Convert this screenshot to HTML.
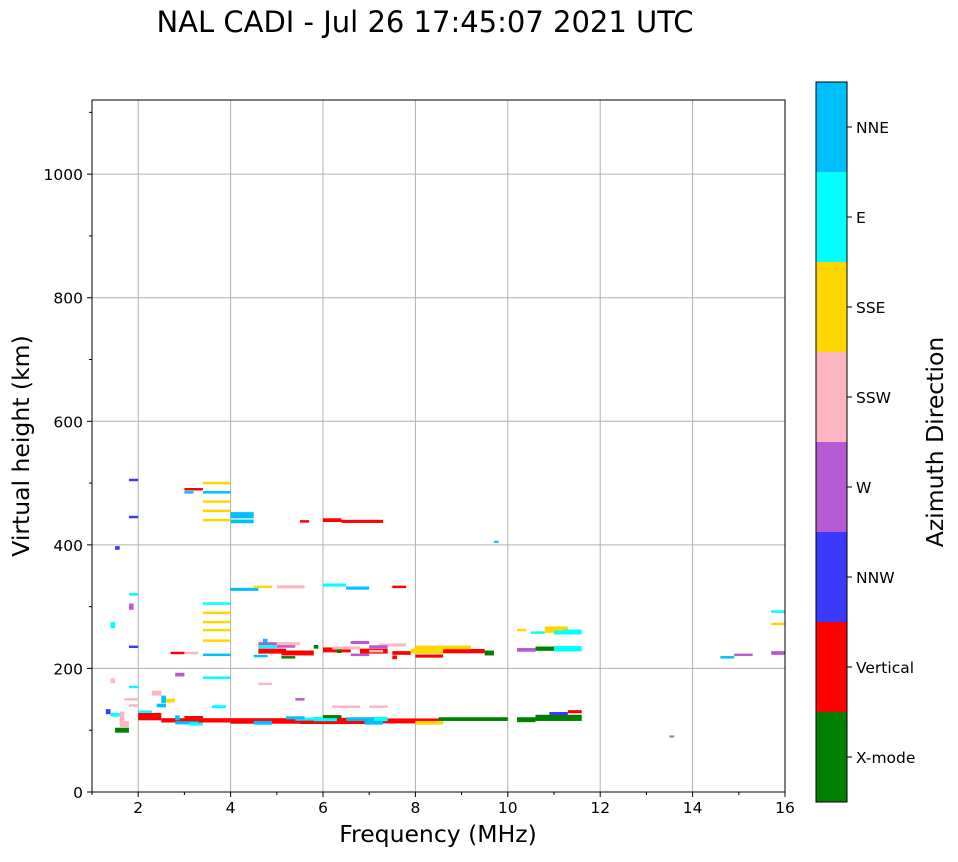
<!DOCTYPE html>
<html><head><meta charset="utf-8"><style>
body{margin:0;background:#fff;}
svg text{font-family:"DejaVu Sans","Liberation Sans",sans-serif;}
</style></head><body>
<svg id="chart" width="958" height="857" viewBox="0 0 958 857" xmlns="http://www.w3.org/2000/svg">
<text x="425" y="32" font-size="29" text-anchor="middle">NAL CADI - Jul 26 17:45:07 2021 UTC</text>
<g id="grid"></g>
<g id="marks"></g>
<rect x="92" y="100" width="693" height="692" fill="none" stroke="#000" stroke-width="1"/>
<g id="axes"></g>
<text x="438" y="842" font-size="23.5" text-anchor="middle">Frequency (MHz)</text>
<text transform="translate(29,446) rotate(-90)" font-size="23.5" text-anchor="middle">Virtual height (km)</text>
<g id="cbar"></g>
<text transform="translate(943,442) rotate(-90)" font-size="23.5" text-anchor="middle">Azimuth Direction</text>
</svg>
<script>
const xTicks=[2,4,6,8,10,12,14,16];
const yTicks=[0,200,400,600,800,1000];
const dirLabels=["X-mode","Vertical","NNW","W","SSW","SSE","E","NNE"];
const dirColors=["#008000","#ff0000","#3a3aff","#b65ad6","#ffb6c1","#ffd700","#00ffff","#00bfff"];
// segments: freqStart, freqEnd, height(km), thickness(km), direction index
const segStart=[2.0,2.5,4.0,5.5,7.2,8.5,10.2,10.6,5.8,6.5,7.1,2.4,3.0,4.6,5.1,6.0,6.8,7.5,7.9,8.6,9.5,10.2,10.6,11.0,4.6,5.0,6.6,7.2,8.0,10.8,11.0,3.4,3.4,3.4,3.4,3.4,3.4,3.4,3.4,3.4,3.4,3.4,4.0,4.0,5.5,6.0,6.4,4.0,4.5,5.0,6.0,6.5,7.5,2.7,3.0,3.4,10.2,10.5,10.8,11.2,14.6,14.9,15.7,15.7,15.7,1.5,1.6,1.4,1.7,1.8,1.8,1.8,1.8,1.8,2.3,2.6,2.8,3.0,3.0,4.6,5.0,6.2,7.0,8.0,10.9,11.3,9.7,13.5,1.8,2.0,4.6,5.4,6.2,7.0,5.4,2.8,3.1,4.5,5.2,6.0,6.9,8.0,9.0,1.3,1.4,1.5,1.8,2.5,2.8,4.7,5.8,6.3,7.5,4.5,5.1,6.6,7.0,3.6,1.4,1.6];
const segEnd  =[2.5,4.0,5.5,7.2,8.6,10.0,10.6,11.6,6.3,7.1,7.4,2.6,3.4,5.2,5.8,6.6,7.4,7.9,8.6,9.5,9.7,10.6,11.0,11.6,5.0,5.4,7.0,7.8,9.2,11.3,11.6,4.0,4.0,4.0,4.0,4.0,4.0,4.0,4.0,4.0,4.0,4.0,4.5,4.5,5.7,6.4,7.3,4.6,4.9,5.6,6.5,7.0,7.8,3.0,3.3,4.0,10.4,10.8,11.3,11.6,14.9,15.3,16.0,16.0,16.0,1.8,1.8,1.6,2.0,2.0,2.0,2.0,2.0,2.0,2.5,2.8,3.0,3.2,3.4,5.0,5.5,6.8,7.4,8.6,11.3,11.6,9.8,13.6,2.0,2.3,4.9,6.0,6.8,7.4,5.6,3.3,3.4,4.9,5.6,6.4,7.3,8.6,9.4,1.4,1.5,1.6,1.9,2.6,2.9,4.8,5.9,6.4,7.6,4.8,5.4,7.0,7.3,3.9,1.5,1.7];
const segH    =[122,116,115,115,115,118,117,120,118,118,118,140,120,228,225,230,228,225,228,228,225,230,232,232,240,236,242,238,234,262,258,500,485,470,455,440,305,290,275,262,245,185,448,438,438,440,438,328,332,332,335,330,332,225,225,222,262,258,265,260,218,222,225,292,272,100,110,125,150,170,320,235,445,505,160,148,190,485,490,235,240,233,235,220,127,130,405,90,140,130,175,118,138,138,150,112,110,112,120,122,112,112,118,130,270,395,300,150,120,245,235,228,218,220,218,222,228,138,180,120];
const segT    =[12,7,9,10,8,6,8,10,7,6,7,6,6,8,8,8,8,6,8,7,8,6,7,9,5,5,5,5,6,9,6,4,4,4,4,4,4,4,4,4,4,4,10,6,4,6,5,5,4,5,5,5,4,4,4,4,4,4,6,6,4,4,6,4,4,8,10,6,4,4,4,4,4,4,8,6,6,4,4,5,5,5,5,5,5,5,3,3,4,4,4,5,4,4,4,5,5,6,5,5,6,6,5,8,10,6,10,12,8,6,6,6,6,4,4,4,4,5,8,20];
const segDir  =[1,1,1,1,1,0,0,0,6,7,6,7,1,1,1,1,1,1,5,1,0,3,0,6,3,3,3,4,5,5,6,5,7,5,5,5,6,5,5,5,5,6,7,7,1,1,1,7,5,4,6,7,1,1,4,7,5,6,5,6,7,3,3,6,5,0,4,6,4,6,6,2,2,2,4,5,3,7,1,6,4,4,3,1,2,1,7,3,4,6,4,6,4,4,3,7,6,7,7,0,7,5,0,2,6,2,3,7,7,7,0,0,1,7,0,3,4,6,4,4];

const svg=document.getElementById('chart');
const NS="http://www.w3.org/2000/svg";
const X0=92,X1=785,Y0=792,Y1=100,FMIN=1,FMAX=16,HMAX=1120;
const xs=f=>X0+(f-FMIN)/(FMAX-FMIN)*(X1-X0);
const ys=h=>Y0-h/HMAX*(Y0-Y1);
function mk(tag,attrs,parent){const e=document.createElementNS(NS,tag);for(const k in attrs)e.setAttribute(k,attrs[k]);parent.appendChild(e);return e;}
const grid=document.getElementById('grid'),axes=document.getElementById('axes'),marks=document.getElementById('marks'),cbar=document.getElementById('cbar');
xTicks.forEach(t=>{const x=xs(t);
 if(t<16){const g=mk('line',{x1:x,x2:x,y1:Y1,y2:Y0,stroke:'#b0b0b0','stroke-width':1},grid);
 
 }
 const tk=mk('line',{x1:x,x2:x,y1:Y0,y2:Y0+5,stroke:'#000'},axes);
 
 
 const tx=mk('text',{x:x,y:Y0+21,'font-size':15.5,'text-anchor':'middle'},axes);tx.textContent=t;
 
 });
for(let f=1;f<16;f+=2){mk('line',{x1:xs(f),x2:xs(f),y1:Y0,y2:Y0+3,stroke:'#000'},axes);}
yTicks.forEach(t=>{const y=ys(t);
 if(t>0){const g=mk('line',{x1:X0,x2:X1,y1:y,y2:y,stroke:'#b0b0b0','stroke-width':1},grid);
 
 }
 mk('line',{x1:X0-5,x2:X0,y1:y,y2:y,stroke:'#000'},axes);
 const tx=mk('text',{x:X0-9,y:y+6,'font-size':15.5,'text-anchor':'end'},axes);tx.textContent=t;
 
 });
for(let h=100;h<HMAX;h+=200){mk('line',{x1:X0-3,x2:X0,y1:ys(h),y2:ys(h),stroke:'#000'},axes);}
for(let i=0;i<segStart.length;i++){
 const x=xs(segStart[i]),w=Math.max(2,xs(segEnd[i])-x);
 const y=ys(segH[i]+segT[i]/2),hh=Math.max(2,segT[i]/HMAX*(Y0-Y1));
 const r=mk('rect',{x:x,y:y,width:w,height:hh,fill:dirColors[segDir[i]]},marks);
 
 
}
const CX=816,CW=31,CT=82,CB=802,bh=(CB-CT)/dirLabels.length;
dirLabels.forEach((l,i)=>{const y=CB-(i+1)*bh;
 const r=mk('rect',{x:CX,y:y,width:CW,height:bh,fill:dirColors[i]},cbar);
 
 
 mk('line',{x1:CX+CW,x2:CX+CW+5,y1:y+bh/2,y2:y+bh/2,stroke:'#000'},cbar);
 const tx=mk('text',{x:CX+CW+9,y:y+bh/2+6,'font-size':15.5},cbar);tx.textContent=l;
 
 });
mk('rect',{x:CX,y:CT,width:CW,height:CB-CT,fill:'none',stroke:'#000'},cbar);
</script>
</body></html>
